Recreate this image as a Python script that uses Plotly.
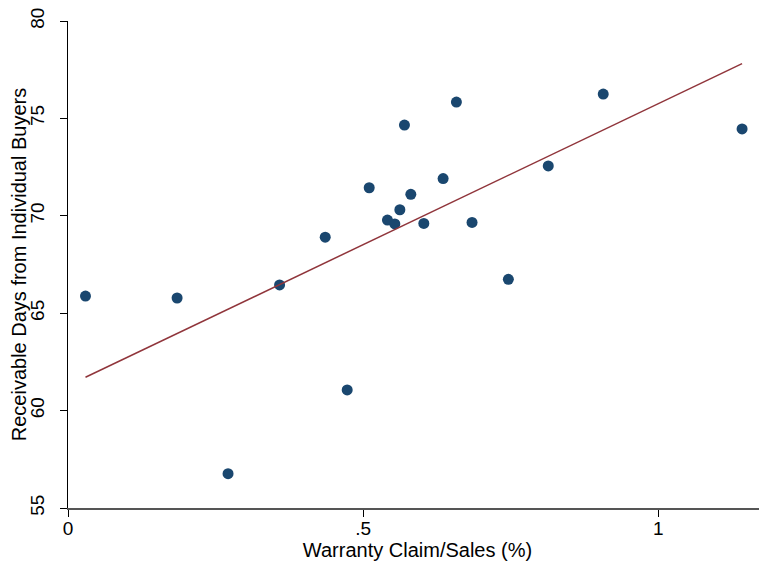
import plotly.graph_objects as go

warranty = [0.0296, 0.1848, 0.2711, 0.3584, 0.4357, 0.4729, 0.5102, 0.5411, 0.5536, 0.5621,
            0.5699, 0.5807, 0.6027, 0.6354, 0.6579, 0.6844, 0.7459, 0.8135, 0.9066, 1.1418]
receivable = [65.88, 65.78, 56.76, 66.45, 68.90, 61.06, 71.44, 69.78, 69.58, 70.31,
              74.66, 71.10, 69.61, 71.91, 75.84, 69.66, 66.74, 72.56, 76.25, 74.46]

# fitted line endpoints as drawn in the reference
fit_x = [0.0296, 1.1418]
fit_y = [61.71, 77.81]

x_ticks = [0, 0.5, 1]
x_tick_labels = ["0", ".5", "1"]
y_ticks = [55, 60, 65, 70, 75, 80]
y_tick_labels = ["55", "60", "65", "70", "75", "80"]

fig = go.Figure()
fig.add_trace(go.Scatter(x=warranty, y=receivable, mode="markers",
                         marker=dict(color="#1a476f", size=11, line=dict(width=0)),
                         showlegend=False, cliponaxis=False))
fig.add_trace(go.Scatter(x=fit_x, y=fit_y, mode="lines",
                         line=dict(color="#90353b", width=1.5), showlegend=False))

font = "Liberation Sans, Arial, sans-serif"
# page body has an 8px margin, so the figure is sized to fill the window after that offset
fig.update_layout(
    width=759, height=555,
    margin=dict(l=59.5, r=0, t=13, b=55, autoexpand=False),
    paper_bgcolor="white", plot_bgcolor="white",
    font=dict(family=font, size=19, color="black"),
    xaxis=dict(range=[0, 1.184], tickvals=x_ticks, ticktext=x_tick_labels, automargin=False,
               showgrid=False, zeroline=False, showline=True, linecolor="#555555", linewidth=1.5,
               ticks="outside", ticklen=7, tickcolor="black", tickwidth=1,
               tickfont=dict(size=19), ticklabelstandoff=-5, ticklabeloverflow="allow",
               title=dict(text="Warranty Claim/Sales (%)", font=dict(size=20), standoff=0)),
    yaxis=dict(range=[55, 80], tickvals=y_ticks, ticktext=y_tick_labels, tickangle=-90, automargin=False,
               showgrid=False, zeroline=False, showline=True, linecolor="black", linewidth=1,
               ticks="outside", ticklen=7, tickcolor="black", tickwidth=1,
               tickfont=dict(size=19), ticklabelstandoff=8, ticklabeloverflow="allow",
               title=dict(text="Receivable Days from Individual Buyers", font=dict(size=20), standoff=0)),
)
fig.write_html("out.html")
